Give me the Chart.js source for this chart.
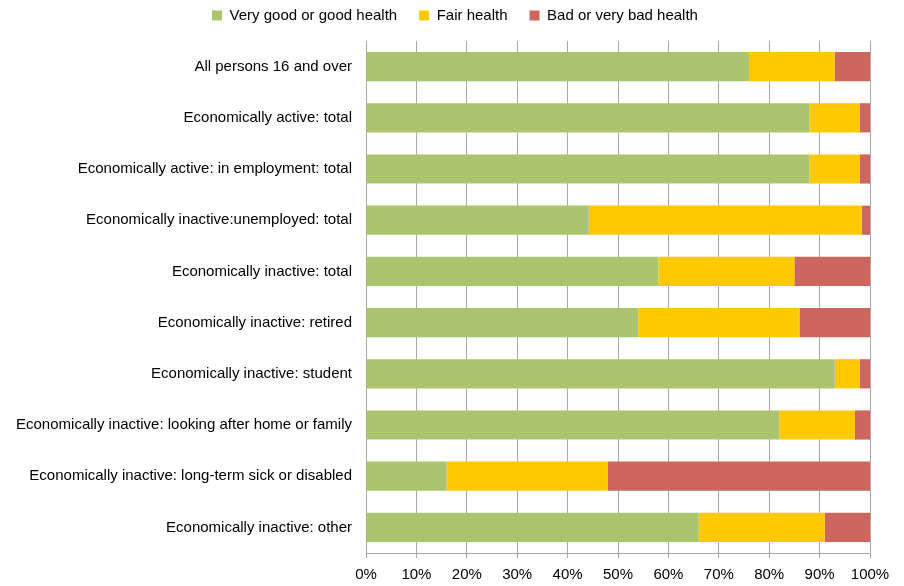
<!DOCTYPE html>
<html>
<head>
<meta charset="utf-8">
<script src="https://cdn.jsdelivr.net/npm/chart.js@4/dist/chart.umd.min.js"></script>
<style>
  html, body { margin: 0; padding: 0; background: #fff; }
  #wrap { width: 904px; height: 586px; }
</style>
</head>
<body>
<div id="wrap"><canvas id="chart" width="904" height="586"></canvas></div>
<script>
const categories = [
  "All persons 16 and over",
  "Economically active: total",
  "Economically active: in employment: total",
  "Economically inactive:unemployed: total",
  "Economically inactive: total",
  "Economically inactive: retired",
  "Economically inactive: student",
  "Economically inactive: looking after home or family",
  "Economically inactive: long-term sick or disabled",
  "Economically inactive: other"
];
const goodHealth = [76, 88, 88, 44.2, 58, 54, 93, 82, 16, 66];
const fairHealth = [17, 10, 10, 54.2, 27, 32, 5, 15, 32, 25];
const badHealth = [7, 2, 2, 1.6, 15, 14, 2, 3, 52, 9];
const xTicks = [0, 10, 20, 30, 40, 50, 60, 70, 80, 90, 100];

const font = { family: "'Liberation Sans', Arial, sans-serif", size: 15 };

// squeeze the legend into the top strip
const legendFix = {
  id: "legendFix",
  beforeInit(chart) {
    const fit = chart.legend.fit;
    chart.legend.fit = function () {
      fit.bind(chart.legend)();
      this.height = 41;
    };
    const draw = chart.legend.draw;
    chart.legend.draw = function () {
      this.ctx.save();
      this.ctx.translate(20, -14);
      draw.bind(chart.legend)();
      this.ctx.restore();
    };
  }
};

const ctx = document.getElementById("chart").getContext("2d");
new Chart(ctx, {
  type: "bar",
  data: {
    labels: categories,
    datasets: [
      { label: "Very good or good health", data: goodHealth, backgroundColor: "#ABC46E" },
      { label: "Fair health", data: fairHealth, backgroundColor: "#FFC900" },
      { label: "Bad or very bad health", data: badHealth, backgroundColor: "#CD665E" }
    ]
  },
  options: {
    indexAxis: "y",
    responsive: false,
    animation: false,
    barPercentage: 0.57,
    categoryPercentage: 1,
    layout: { padding: { top: 0, right: 34, bottom: 0, left: 0 } },
    plugins: {
      tooltip: { enabled: false },
      legend: {
        position: "top",
        labels: {
          boxWidth: 10,
          boxHeight: 10,
          padding: 22,
          color: "#000",
          font: font
        }
      }
    },
    scales: {
      x: {
        stacked: true,
        min: 0,
        max: 100,
        afterBuildTicks(scale) {
          scale.ticks = xTicks.map(v => ({ value: v }));
        },
        afterFit(scale) { scale.height = 33; },
        grid: { color: "#A8A8A8", lineWidth: 1, tickLength: 5, drawTicks: true },
        border: { color: "#A8A8A8" },
        ticks: {
          color: "#000",
          font: font,
          padding: 8,
          maxRotation: 0,
          callback: v => v + "%"
        }
      },
      y: {
        stacked: true,
        afterFit(scale) { scale.width = 366; },
        grid: { display: false, drawTicks: false },
        border: { display: true, color: "#A8A8A8" },
        ticks: { color: "#000", font: font, padding: 14 }
      }
    }
  },
  plugins: [legendFix]
});
</script>
</body>
</html>
